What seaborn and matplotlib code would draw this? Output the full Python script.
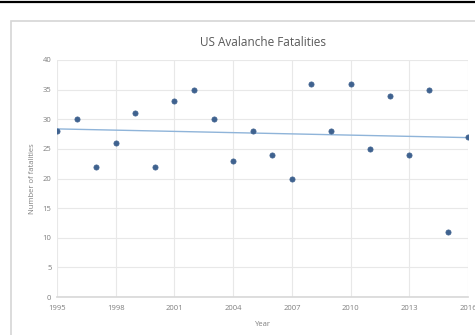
import matplotlib
matplotlib.use("Agg")
import matplotlib.pyplot as plt
from matplotlib.patches import Rectangle
from matplotlib.lines import Line2D
import seaborn as sns
import pandas as pd

years = list(range(1995, 2017))
fatalities = [28, 30, 22, 26, 31, 22, 33, 35, 30, 23, 28, 24, 20, 36, 28, 36, 25, 34, 24, 35, 11, 27]
x_ticks = [1995, 1998, 2001, 2004, 2007, 2010, 2013, 2016]
y_ticks = [0, 5, 10, 15, 20, 25, 30, 35, 40]

df = pd.DataFrame({"Year": years, "Fatalities": fatalities})

sns.set_theme(style="white")
plt.rcParams["font.family"] = ["Open Sans", "DejaVu Sans"]

fig = plt.figure(figsize=(4.75, 3.35), dpi=100)
fig.patch.set_facecolor("white")

# outer black rule and chart frame, kept behind the axes
fig.add_artist(Line2D([0, 1], [0.993, 0.993], color="black", lw=1.6,
                      transform=fig.transFigure, zorder=-2))
fig.add_artist(Rectangle((11 / 475, -0.01), 1.0, 1 - 21 / 335 + 0.01, transform=fig.transFigure,
                         facecolor="white", edgecolor="#d6d6d6", lw=1.2, zorder=-2))

ax = fig.add_axes([57 / 475, 1 - 297 / 335, (468 - 57) / 475, (297 - 60) / 335])
ax.set_facecolor("none")
ax.patch.set_alpha(0)

sns.regplot(data=df, x="Year", y="Fatalities", ax=ax, scatter=False, ci=None, truncate=True,
            line_kws={"color": "#8fb4d9", "lw": 1.0})
sns.scatterplot(data=df, x="Year", y="Fatalities", ax=ax, s=14, color="#3f628f",
                edgecolor="#3f628f", linewidth=0.5, zorder=3)

ax.set_xlim(1995, 2016)
ax.set_ylim(0, 40)
ax.set_xticks(x_ticks)
ax.set_yticks(y_ticks)
ax.grid(True, color="#e8e8e8", lw=0.8)
ax.set_axisbelow(True)
for s in ["top", "right", "left"]:
    ax.spines[s].set_visible(False)
ax.spines["bottom"].set_color("#d9d9d9")
ax.tick_params(axis="x", length=0, labelsize=5.5, labelcolor="#7f7f7f", pad=6)
ax.tick_params(axis="y", length=0, labelsize=5.5, labelcolor="#7f7f7f", pad=4)

ax.set_title("US Avalanche Fatalities", fontsize=8.5, color="#595959", pad=10)
ax.set_xlabel("Year", fontsize=5.5, color="#7f7f7f", labelpad=6)
ax.set_ylabel("Number of fatalities", fontsize=5.5, color="#7f7f7f", labelpad=5)

fig.savefig("out.png", dpi=100)
